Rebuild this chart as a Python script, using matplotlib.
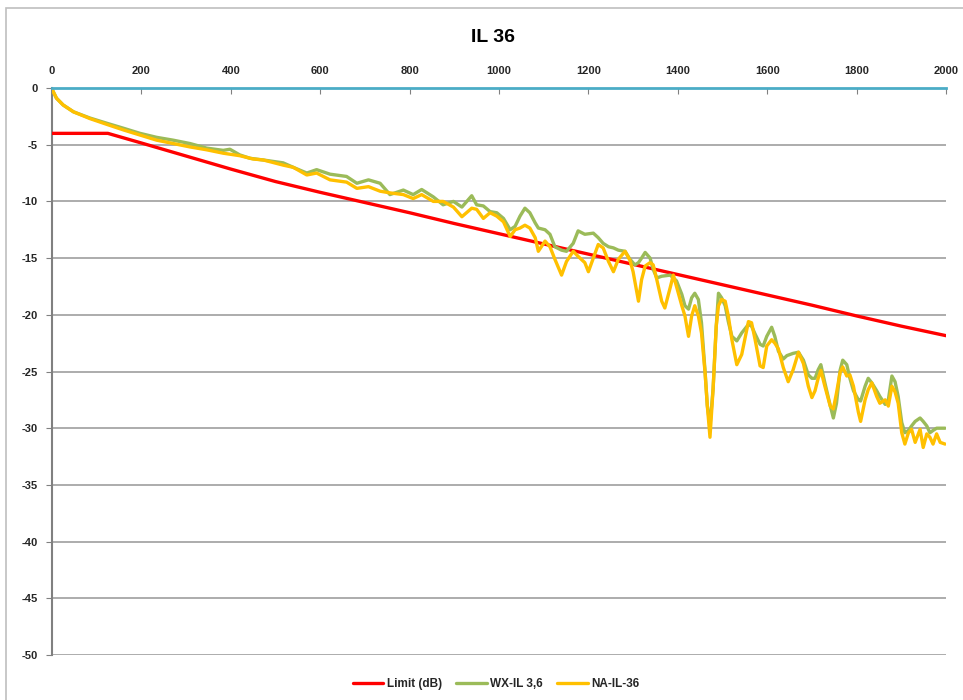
import matplotlib
matplotlib.use("Agg")
import matplotlib.pyplot as plt
from matplotlib.patches import Rectangle

plt.rcParams['font.family'] = ['Liberation Sans', 'DejaVu Sans']

title = "IL 36"
x_ticks = [0, 200, 400, 600, 800, 1000, 1200, 1400, 1600, 1800, 2000]
y_ticks = [0, -5, -10, -15, -20, -25, -30, -35, -40, -45, -50]

limit_f = [0, 125, 200, 300, 400, 500, 600, 700, 800, 900, 1000, 1100, 1200,
           1300, 1400, 1500, 1600, 1700, 1800, 1900, 2000]
limit_db = [-4.0, -4.0, -4.85, -6.0, -7.15, -8.25, -9.2, -10.1, -11.0, -11.95,
            -12.85, -13.75, -14.65, -15.55, -16.45, -17.35, -18.25, -19.15,
            -20.1, -21.0, -21.84]

wx_f = [0, 10, 25, 48, 85, 122, 160, 197, 234, 271, 309, 346, 383, 398, 420,
        443, 473, 517, 540, 570, 592, 622, 659, 682, 708, 734, 756, 786, 808,
        827, 853, 875, 898, 917, 939, 950, 965, 980, 995, 1010, 1025, 1036,
        1047, 1058, 1069, 1081, 1088, 1103, 1114, 1125, 1140, 1151, 1166, 1177,
        1192, 1211, 1222, 1233, 1245, 1256, 1267, 1282, 1293, 1304, 1312, 1319,
        1327, 1338, 1345, 1353, 1364, 1383, 1397, 1409, 1416, 1424, 1431, 1438,
        1446, 1453, 1461, 1466, 1472, 1479, 1486, 1491, 1498, 1506, 1513, 1521,
        1532, 1543, 1558, 1565, 1573, 1584, 1591, 1599, 1610, 1617, 1625, 1636,
        1644, 1651, 1658, 1670, 1681, 1692, 1700, 1707, 1714, 1720, 1729, 1741,
        1748, 1755, 1763, 1769, 1778, 1785, 1793, 1804, 1809, 1819, 1826, 1834,
        1845, 1852, 1864, 1871, 1879, 1886, 1893, 1901, 1908, 1916, 1923, 1931,
        1942, 1949, 1957, 1964, 1971, 1979, 1998]
wx_db = [-0.1, -0.9, -1.5, -2.1, -2.65, -3.1, -3.55, -4.0, -4.35, -4.6, -4.9,
         -5.3, -5.5, -5.4, -5.9, -6.2, -6.35, -6.6, -7.0, -7.5, -7.2, -7.6,
         -7.8, -8.4, -8.1, -8.4, -9.4, -9.0, -9.4, -8.95, -9.6, -10.3, -10.0,
         -10.5, -9.5, -10.3, -10.4, -10.9, -11.0, -11.5, -12.5, -12.2, -11.3,
         -10.6, -11.0, -11.9, -12.35, -12.5, -12.9, -14.0, -14.3, -14.4, -13.7,
         -12.6, -12.9, -12.8, -13.2, -13.7, -14.0, -14.1, -14.3, -14.4, -15.1,
         -15.6, -15.4, -15.0, -14.5, -15.0, -16.0, -16.75, -16.6, -16.5, -17.0,
         -18.2, -19.2, -19.5, -18.5, -18.1, -18.65, -20.7, -25.0, -28.0, -29.8,
         -26.5, -21.0, -18.1, -18.5, -19.2, -20.6, -21.9, -22.3, -21.6, -20.85,
         -21.0, -21.7, -22.6, -22.75, -21.9, -21.1, -21.9, -23.2, -23.9, -23.6,
         -23.5, -23.4, -23.3, -24.0, -25.3, -25.6, -25.6, -24.85, -24.4, -26.0,
         -28.0, -29.1, -27.8, -24.9, -24.0, -24.4, -25.6, -26.7, -27.5, -27.6,
         -26.3, -25.6, -26.0, -26.7, -27.2, -27.9, -27.5, -25.4, -25.9, -27.2,
         -29.5, -30.4, -30.2, -29.8, -29.4, -29.1, -29.4, -29.8, -30.4, -30.2,
         -30.0, -30.0]

na_f = [0, 10, 25, 48, 85, 122, 160, 197, 234, 271, 309, 346, 383, 420, 450,
        473, 517, 540, 570, 592, 622, 659, 682, 708, 734, 756, 786, 808, 827,
        853, 875, 898, 917, 939, 950, 965, 980, 995, 1010, 1025, 1036, 1047,
        1058, 1069, 1081, 1088, 1103, 1114, 1125, 1140, 1151, 1166, 1177, 1192,
        1200, 1211, 1222, 1233, 1245, 1256, 1267, 1282, 1293, 1300, 1312, 1319,
        1327, 1338, 1345, 1353, 1364, 1371, 1383, 1390, 1397, 1409, 1416, 1424,
        1431, 1438, 1446, 1453, 1461, 1466, 1472, 1479, 1486, 1491, 1498, 1506,
        1513, 1521, 1532, 1543, 1558, 1565, 1573, 1584, 1591, 1599, 1610, 1617,
        1625, 1636, 1647, 1658, 1670, 1681, 1692, 1700, 1707, 1714, 1720, 1729,
        1741, 1748, 1755, 1763, 1769, 1778, 1785, 1793, 1804, 1809, 1819, 1826,
        1834, 1845, 1852, 1864, 1871, 1879, 1886, 1893, 1901, 1908, 1916, 1923,
        1931, 1942, 1949, 1957, 1964, 1971, 1979, 1987, 1998]
na_db = [-0.1, -0.9, -1.5, -2.1, -2.7, -3.2, -3.7, -4.15, -4.6, -4.9, -5.2,
         -5.45, -5.75, -5.97, -6.26, -6.35, -6.8, -7.0, -7.67, -7.5, -8.1,
         -8.3, -8.85, -8.7, -9.1, -9.25, -9.4, -9.75, -9.4, -10.0, -10.0,
         -10.5, -11.35, -10.6, -10.7, -11.5, -11.0, -11.3, -11.8, -13.1,
         -12.5, -12.35, -12.1, -12.35, -13.2, -14.4, -13.5, -14.0, -15.1,
         -16.5, -15.3, -14.4, -14.85, -15.4, -16.2, -15.0, -13.8, -14.1, -15.3,
         -16.2, -15.1, -14.4, -15.2, -16.2, -18.8, -16.9, -15.7, -15.4, -15.6,
         -16.9, -18.8, -19.4, -17.6, -16.5, -17.5, -19.2, -20.1, -21.9, -20.1,
         -19.2, -20.1, -21.6, -25.1, -28.0, -30.8, -26.5, -21.0, -19.2, -18.65,
         -18.8, -20.1, -22.2, -24.4, -23.5, -20.6, -20.7, -22.2, -24.5, -24.65,
         -22.75, -22.2, -22.5, -23.0, -24.65, -25.9, -24.85, -23.3, -24.3,
         -26.3, -27.3, -26.7, -25.6, -24.9, -26.3, -28.05, -28.3, -26.9, -25.1,
         -24.6, -25.4, -25.3, -26.3, -28.6, -29.4, -27.5, -26.6, -26.0, -27.2,
         -27.8, -27.5, -28.05, -26.3, -26.8, -27.8, -30.4, -31.4, -30.4, -30.1,
         -31.25, -30.1, -31.7, -30.5, -30.8, -31.4, -30.5, -31.25, -31.4]

W, H = 963, 700
fig = plt.figure(figsize=(W / 100, H / 100), dpi=100)
fig.patches.append(Rectangle((6 / W, -0.01), 1.0, 1 - 8 / H + 0.01,
                             transform=fig.transFigure, fill=False,
                             edgecolor='#BFBFBF', linewidth=1.2))

ax = fig.add_axes([52 / W, 1 - 655 / H, (946 - 52) / W, (655 - 88) / H])
ax.set_xlim(0, 2000)
ax.set_ylim(-50, 0)

for yv in y_ticks[1:]:
    ax.axhline(yv, color='#A6A6A6', linewidth=1.3, zorder=1)

line_kw = dict(linewidth=2.4, solid_joinstyle='round', solid_capstyle='round')
ax.plot(limit_f, limit_db, color='#FF0000', label='Limit (dB)', zorder=3, **line_kw)
ax.plot(wx_f, wx_db, color='#9BBB59', label='WX-IL 3,6', zorder=4, **line_kw)
ax.plot(na_f, na_db, color='#FFC000', label='NA-IL-36', zorder=5, **line_kw)

for s in ['right', 'bottom']:
    ax.spines[s].set_visible(False)
ax.spines['top'].set_color('#4BACC6')
ax.spines['top'].set_linewidth(2.0)
ax.spines['top'].set_zorder(6)
ax.spines['left'].set_color('#808080')
ax.spines['left'].set_linewidth(1.5)

ax.xaxis.tick_top()
ax.set_xticks(x_ticks)
ax.set_xticklabels([str(v) for v in x_ticks])
ax.set_yticks(y_ticks)
ax.set_yticklabels([str(v) for v in y_ticks])
ax.tick_params(axis='x', direction='in', length=4, color='#808080', pad=9,
               labelsize=8)
ax.tick_params(axis='y', direction='out', length=4, color='#808080', pad=6,
               labelsize=8)
for lab in ax.get_xticklabels() + ax.get_yticklabels():
    lab.set_fontweight('bold')
    lab.set_color('#262626')

fig.text(493 / W, 1 - 38 / H, title, ha='center', va='center',
         fontsize=14, fontweight='bold', color='#000000')

leg = fig.legend(loc='center', bbox_to_anchor=(496 / W, 1 - 684 / H), ncol=3,
                 frameon=False, fontsize=8.5, handlelength=2.6,
                 columnspacing=1.2, handletextpad=0.3)
for t in leg.get_texts():
    t.set_fontweight('bold')
    t.set_color('#262626')

fig.savefig('out.png', dpi=100)
